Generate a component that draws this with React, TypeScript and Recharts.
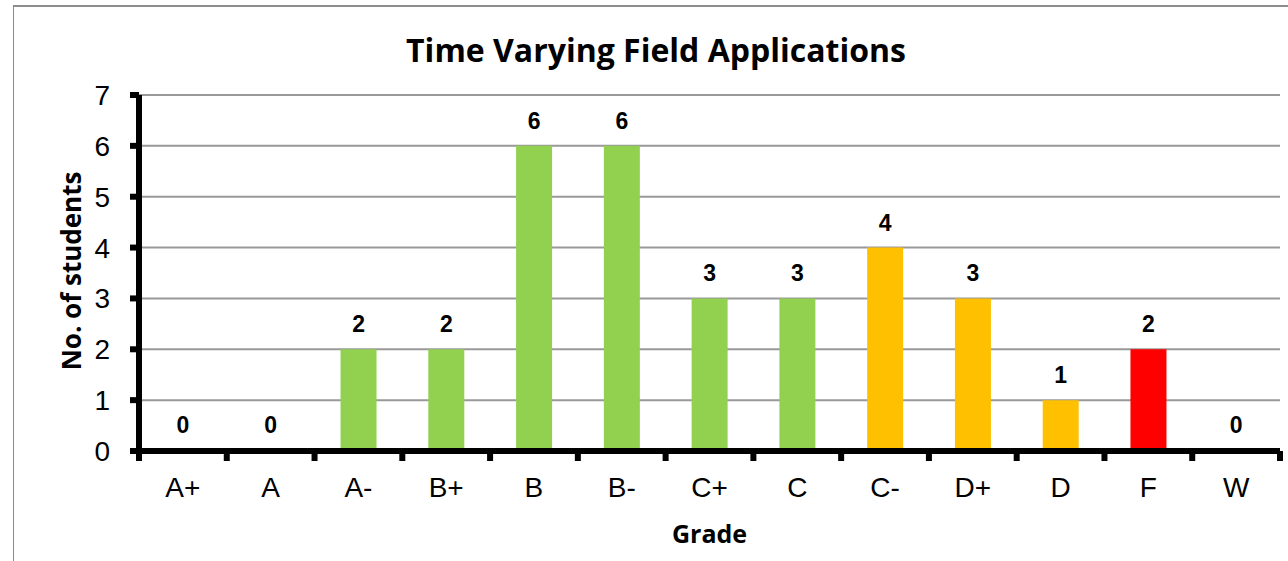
import React from 'react'
import { BarChart, Bar, XAxis, YAxis, CartesianGrid, Cell, LabelList } from 'recharts'

const grades = ['A+', 'A', 'A-', 'B+', 'B', 'B-', 'C+', 'C', 'C-', 'D+', 'D', 'F', 'W']
const students = [0, 0, 2, 2, 6, 6, 3, 3, 4, 3, 1, 2, 0]
const yTicks = [0, 1, 2, 3, 4, 5, 6, 7]

const data = grades.map((grade, i) => ({ grade, students: students[i] }))

const W = 1288
const H = 561
const margin = { top: 95, right: 8, bottom: 50, left: 79 }
const plotW = W - margin.left - 60 - margin.right
const band = plotW / grades.length

const GREEN = '#92D050'
const ORANGE = '#FFC000'
const RED = '#FF0000'

function barColor(grade: string, value: number) {
  if (value === 0) return 'transparent'
  if (grade === 'F') return RED
  if (grade === 'C-' || grade.startsWith('D')) return ORANGE
  return GREEN
}

const arial = '"Liberation Sans", Arial, sans-serif'
const calibri = '"Open Sans", Lato, sans-serif'

function GradeTick(props: any) {
  const { x, y, payload, index } = props
  const last = index === grades.length - 1
  return (
    <g>
      <rect x={x - band / 2 - 3} y={y - 10} width={6} height={10} fill="#000" />
      {last && <rect x={x + band / 2 - 3} y={y - 10} width={6} height={10} fill="#000" />}
      <text x={x} y={y + 36} textAnchor="middle" fontFamily={arial} fontSize={28} fill="#000">
        {payload.value}
      </text>
    </g>
  )
}

export default function App() {
  return (
    <div style={{ position: 'fixed', left: 0, top: 0, width: W, height: H, background: '#fff', overflow: 'hidden' }}>
      <div
        style={{
          position: 'absolute',
          left: 13,
          top: 5,
          width: W,
          height: H,
          borderTop: '2px solid #8c8c8c',
          borderLeft: '1px solid #8c8c8c',
        }}
      />
      <div
        style={{
          position: 'absolute',
          left: 0,
          top: 29,
          width: 1312,
          textAlign: 'center',
          fontFamily: calibri,
          fontWeight: 700,
          fontSize: 32,
          lineHeight: '42px',
          color: '#000',
        }}
      >
        Time Varying Field Applications
      </div>
      <div style={{ position: 'absolute', left: 0, top: 0 }}>
        <BarChart width={W} height={H} data={data} margin={margin} barSize={36}>
          <CartesianGrid vertical={false} stroke="#999" strokeWidth={2} />
          <Bar dataKey="students" isAnimationActive={false} minPointSize={1}>
            {data.map((d) => (
              <Cell key={d.grade} fill={barColor(d.grade, d.students)} />
            ))}
            <LabelList
              dataKey="students"
              position="top"
              offset={17}
              fill="#000"
              fontSize={23}
              fontWeight={700}
              fontFamily={arial}
            />
          </Bar>
          <XAxis
            dataKey="grade"
            height={60}
            interval={0}
            axisLine={{ stroke: '#000', strokeWidth: 6 }}
            tickLine={false}
            tickSize={10}
            tickMargin={0}
            tick={<GradeTick />}
            label={{
              content: ({ viewBox }: any) => (
                <text
                  x={viewBox.x + viewBox.width / 2}
                  y={viewBox.y + 92}
                  textAnchor="middle"
                  fontFamily={calibri}
                  fontWeight={700}
                  fontSize={25}
                  fill="#000"
                >
                  Grade
                </text>
              ),
            }}
          />
          <YAxis
            width={60}
            domain={[0, 7]}
            ticks={yTicks}
            interval={0}
            axisLine={{ stroke: '#000', strokeWidth: 6 }}
            tickLine={{ stroke: '#000', strokeWidth: 6 }}
            tickSize={9}
            tickMargin={20}
            tick={{ fill: '#000', fontSize: 28, fontFamily: arial }}
            label={{
              content: ({ viewBox }: any) => {
                const cx = viewBox.x - 8
                const cy = viewBox.y + viewBox.height / 2 - 2
                return (
                  <text
                    x={cx}
                    y={cy}
                    transform={`rotate(-90 ${cx} ${cy})`}
                    textAnchor="middle"
                    dominantBaseline="central"
                    fontFamily={calibri}
                    fontWeight={700}
                    fontSize={26}
                    fill="#000"
                  >
                    No. of students
                  </text>
                )
              },
            }}
          />
        </BarChart>
      </div>
    </div>
  )
}
